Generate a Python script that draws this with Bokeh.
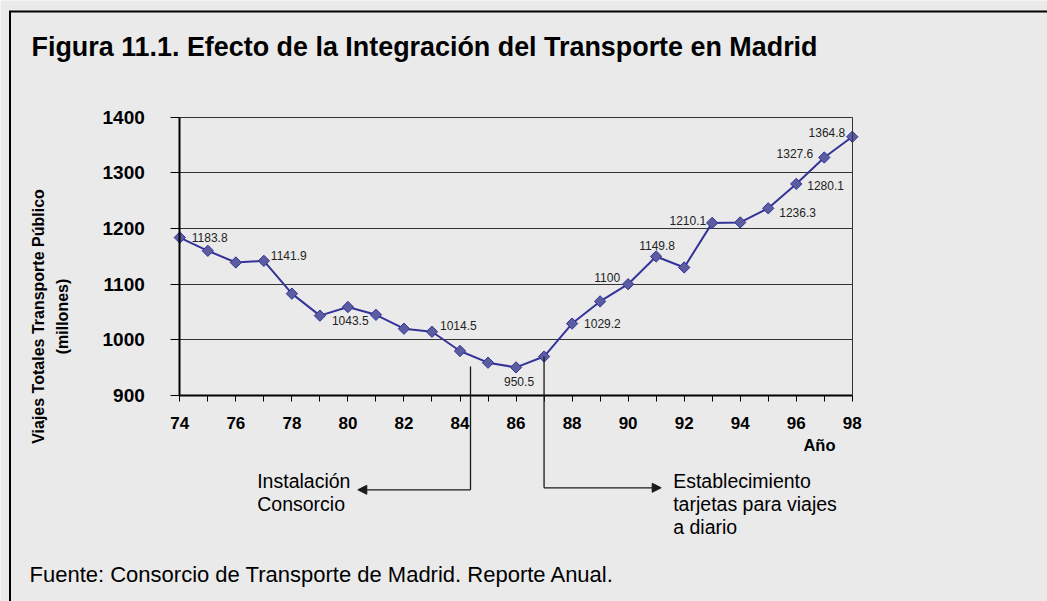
import math
from bokeh.plotting import figure
from bokeh.models import Range1d, FixedTicker, ColumnDataSource, Label, Arrow, NormalHead, LinearAxis
from bokeh.core.properties import value
from bokeh.embed import file_html
from bokeh.resources import INLINE

# ---------------- data ----------------
years = list(range(74, 99))
viajes = [1183.8, 1160, 1139, 1141.9, 1083, 1043.5, 1059, 1045, 1020, 1014.5,
          980, 959, 950.5, 970, 1029.2, 1069, 1100, 1149.8, 1130, 1210.1,
          1211, 1236.3, 1280.1, 1327.6, 1364.8]
labeled_years = [74, 77, 79, 83, 86, 88, 90, 91, 93, 95, 96, 97, 98]
x_major_ticks = [74, 76, 78, 80, 82, 84, 86, 88, 90, 92, 94, 96, 98]
x_minor_ticks = [75, 77, 79, 81, 83, 85, 87, 89, 91, 93, 95, 97]
y_ticks = [900, 1000, 1100, 1200, 1300, 1400]

title_text = "Figura 11.1. Efecto de la Integración del Transporte en Madrid"
y_title_lines = ["Viajes Totales Transporte Público", "(millones)"]
x_title = "Año"
note_left_lines = ["Instalación", "Consorcio"]
note_right_lines = ["Establecimiento", "tarjetas para viajes", "a diario"]
source_text = "Fuente: Consorcio de Transporte de Madrid. Reporte Anual."

# ---------------- layout / styles ----------------
W, H = 1047, 601
PX_YEAR = 28.02      # pixels per year
PX_100 = 55.66       # pixels per 100 million trips
LEFT_PX = 179.3      # pixel column of the first year
TOP_PX = 116.7       # pixel row of the top of the value axis
XMIN = 74 - LEFT_PX / PX_YEAR
XMAX = XMIN + W / PX_YEAR
YMAX = 1400 + TOP_PX * 100 / PX_100
YMIN = YMAX - H * 100 / PX_100


def X(px):
    return XMIN + px / PX_YEAR


def Y(py):
    return YMAX - py * 100 / PX_100


FONT = "Liberation Sans"
BG = "#eaeaea"
NAVY = "#333399"
LC = "#1a1a1a"
# label placement per labeled year: (dx px, dy px down, align)
label_style = {
    74: (12, 0, "left"), 77: (7, -5, "left"), 79: (12, 5, "left"),
    83: (8, -6, "left"), 86: (3, 14, "center"), 88: (12, 0, "left"),
    90: (-8, -7, "right"), 91: (1, -11, "center"), 93: (-6, -2, "right"),
    95: (11, 4, "left"), 96: (11, 2, "left"), 97: (-11, -4, "right"),
    98: (-7, -4, "right"),
}

p = figure(width=W, height=H, min_border=0,
           x_range=Range1d(XMIN, XMAX), y_range=Range1d(YMIN, YMAX),
           output_backend="svg", toolbar_location=None,
           background_fill_color=BG, border_fill_color=BG,
           outline_line_color=None)

# y axis (drawn at year 74)
yax = p.yaxis[0]
yax.fixed_location = 74
yax.bounds = (900, 1400)
yax.ticker = FixedTicker(ticks=y_ticks)
yax.major_tick_out = 9
yax.major_tick_in = 0
yax.minor_tick_out = 0
yax.minor_tick_in = 0
yax.axis_line_width = 2
yax.axis_line_color = "black"
yax.major_tick_line_color = "black"
yax.major_label_standoff = 26
yax.major_label_text_font = FONT
yax.major_label_text_font_style = "bold"
yax.major_label_text_font_size = "19px"
yax.major_label_text_color = "black"

# x axis (drawn at 900)
xax = p.xaxis[0]
xax.fixed_location = 900
xax.ticker = FixedTicker(ticks=x_major_ticks, minor_ticks=x_minor_ticks)
xax.bounds = (74, 98)
xax.major_tick_out = 6
xax.major_tick_in = 0
xax.minor_tick_out = 6
xax.minor_tick_in = 0
xax.axis_line_width = 2
xax.axis_line_color = "black"
xax.major_tick_line_color = "black"
xax.minor_tick_line_color = "black"
xax.major_label_standoff = 15
xax.major_label_text_font = FONT
xax.major_label_text_font_style = "bold"
xax.major_label_text_font_size = "17px"
xax.major_label_text_color = "black"

# right border of the plot area
rax = LinearAxis(fixed_location=98, bounds=(900, 1400), ticker=FixedTicker(ticks=[]),
                 major_tick_out=0, major_tick_in=0, minor_tick_out=0, minor_tick_in=0,
                 major_label_text_font_size="0px", axis_line_color="#333333",
                 axis_line_width=1)
p.add_layout(rax, "right")

# grid
p.xgrid.visible = False
g = p.ygrid[0]
g.ticker = FixedTicker(ticks=y_ticks)
g.grid_line_color = "#333333"
g.grid_line_width = 1
g.bounds = (900, 1400)
if "cross_bounds" in g.properties():
    g.cross_bounds = (74, 98)

# series
p.line(years, viajes, line_color=NAVY, line_width=2)
p.scatter(years, viajes, marker="square", angle=math.pi / 4, size=8,
          fill_color="#5c5ca0", line_color=NAVY, line_width=1)

# data labels
lx, ly, lt, ldx, ldy, lal = [], [], [], [], [], []
for yr in labeled_years:
    v = viajes[years.index(yr)]
    dx, dy, al = label_style[yr]
    lx.append(yr); ly.append(v); lt.append(f"{v:g}")
    ldx.append(dx); ldy.append(dy); lal.append(al)
src = ColumnDataSource(dict(x=lx, y=ly, text=lt, dx=ldx, dy=ldy, align=lal))
p.text(x="x", y="y", text="text", x_offset="dx", y_offset="dy", text_align="align",
       text_baseline="middle", text_font=value(FONT), text_font_size="12px",
       text_color="#222222", source=src)

# annotation arrows
xa1 = X(470)
p.add_layout(Arrow(x_start=xa1, y_start=Y(366), x_end=xa1, y_end=Y(489.3), end=None,
                   line_color=LC, line_width=1.3))
p.add_layout(Arrow(x_start=xa1, y_start=Y(489.3), x_end=X(357.3), y_end=Y(489.3),
                   end=NormalHead(size=9, fill_color=LC, line_color=LC),
                   line_color=LC, line_width=1.3))
y87 = viajes[years.index(87)]
p.add_layout(Arrow(x_start=87, y_start=y87, x_end=87, y_end=Y(487.3), end=None,
                   line_color=LC, line_width=1.3))
p.add_layout(Arrow(x_start=87, y_start=Y(487.3), x_end=X(660.7), y_end=Y(487.3),
                   end=NormalHead(size=9, fill_color=LC, line_color=LC),
                   line_color=LC, line_width=1.3))


def add_text(px, py, text, size, bold=False, align="left", angle=0.0):
    p.add_layout(Label(x=X(px), y=Y(py), text=text, text_align=align,
                       text_baseline="middle", angle=angle, text_font=FONT,
                       text_font_style="bold" if bold else "normal",
                       text_font_size=size, text_color="black"))


for i, t in enumerate(note_left_lines):
    add_text(256.7, 480.7 + i * 22.8, t, "19.5px")
for i, t in enumerate(note_right_lines):
    add_text(672.7, 480.7 + i * 23.0, t, "19.5px")

add_text(31, 46, title_text, "26.9px", bold=True)
add_text(29, 574, source_text, "22px")
add_text(835, 444, x_title, "16.5px", bold=True, align="right")
for i, t in enumerate(y_title_lines):
    add_text(38 + i * 24, 316, t, "16px", bold=True, align="center", angle=math.pi / 2)

# outer frame (left and top edges visible)
p.add_layout(Arrow(x_start=X(9.5), y_start=Y(11), x_end=X(9.5), y_end=Y(H + 5), end=None,
                   line_color="black", line_width=2))
p.add_layout(Arrow(x_start=X(8.5), y_start=Y(11), x_end=X(W + 5), y_end=Y(11), end=None,
                   line_color="black", line_width=2))

open("out.html", "w").write(file_html(p, INLINE))
